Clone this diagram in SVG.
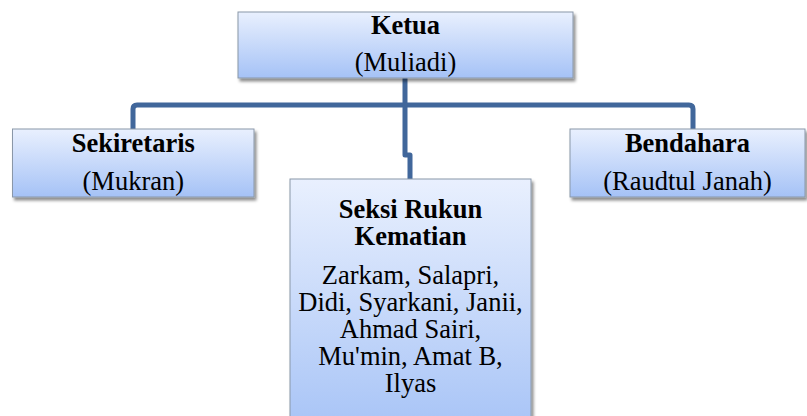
<svg xmlns="http://www.w3.org/2000/svg" width="807" height="416" viewBox="0 0 807 416">
<defs>
<linearGradient id="g" x1="0" y1="0" x2="0" y2="1">
<stop offset="0" stop-color="#e9f0fe"/>
<stop offset="1" stop-color="#a5c2f6"/>
</linearGradient>
<filter id="sh" x="-10%" y="-10%" width="125%" height="130%">
<feDropShadow dx="2" dy="3" stdDeviation="1.8" flood-color="#000" flood-opacity="0.45"/>
</filter>
</defs>
<style>
.box{fill:url(#g);stroke:#8a97a8;stroke-width:1;filter:url(#sh)}
.t{font-family:"Liberation Serif","Times New Roman",serif;font-size:26.5px;fill:#000;text-anchor:middle}
.b{font-weight:bold}
.c{fill:none;stroke:#41679b;stroke-width:5;stroke-linejoin:round}
</style>
<rect width="807" height="416" fill="#fff"/>
<g id="connectors">
<path class="c" d="M405,78 V105"/>
<path class="c" d="M133,129 V109 Q133,105 137,105 H689 Q693,105 693,109 V129"/>
<path class="c" d="M405,105 V155 H410 V179"/>
</g>
<g id="ketua">
<rect class="box" x="238" y="12" width="335" height="66"/>
<text class="t b" x="405.5" y="34">Ketua</text>
<text class="t" x="405.5" y="71">(Muliadi)</text>
</g>
<g id="sekiretaris">
<rect class="box" x="12.5" y="129" width="241.5" height="68"/>
<text class="t b" x="133.3" y="152">Sekiretaris</text>
<text class="t" x="133.3" y="190">(Mukran)</text>
</g>
<g id="bendahara">
<rect class="box" x="570" y="129" width="235" height="68"/>
<text class="t b" x="687.5" y="152">Bendahara</text>
<text class="t" x="687.5" y="190">(Raudtul Janah)</text>
</g>
<g id="seksi">
<rect class="box" x="290" y="179" width="241" height="260"/>
<text class="t b" x="410.5" y="218">Seksi Rukun</text>
<text class="t b" x="410.5" y="245">Kematian</text>
<text class="t" x="410.5" y="283.5">Zarkam, Salapri,</text>
<text class="t" x="410.5" y="311">Didi, Syarkani, Janii,</text>
<text class="t" x="410.5" y="338">Ahmad Sairi,</text>
<text class="t" x="410.5" y="365">Mu'min, Amat B,</text>
<text class="t" x="410.5" y="392">Ilyas</text>
</g>
</svg>
